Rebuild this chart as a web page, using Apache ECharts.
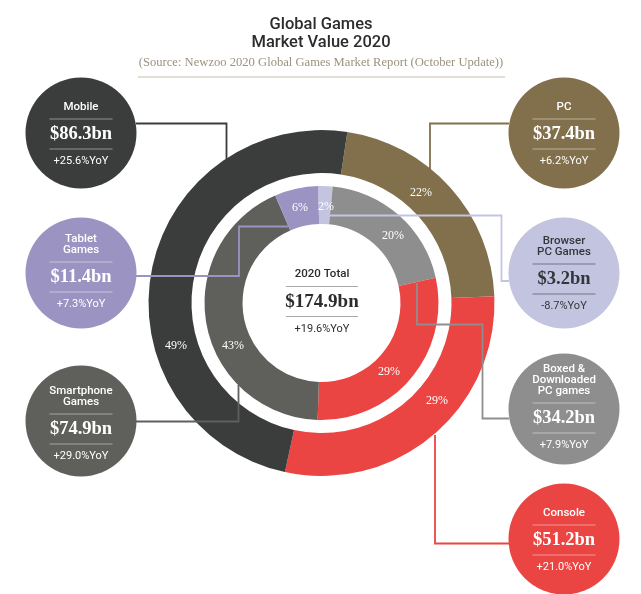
<!DOCTYPE html>
<html>
<head>
<meta charset="utf-8">
<title>Global Games Market Value 2020</title>
<script src="https://cdn.jsdelivr.net/npm/echarts@6/dist/echarts.min.js"></script>
<style>
html,body{margin:0;padding:0;background:#fff;}
#main{width:641px;height:594px;}
</style>
</head>
<body>
<div id="main"></div>
<script>
// ring data (percent labels from the picture)
let outerNames = ['PC','Console','Mobile'];
let outerShares = [22,29,49];
let innerNames = ['Browser PC Games','Boxed & Downloaded PC games','Console','Smartphone Games','Tablet Games'];
let innerShares = [2,20,29,43,6];

// callout circles
let badgeTitles = [['Mobile'],['Tablet','Games'],['Smartphone','Games'],['PC'],['Browser','PC Games'],['Boxed &','Downloaded','PC games'],['Console']];
let badgeValues = [86.3,11.4,74.9,37.4,3.2,34.2,51.2];
let badgeYoY = ['+25.6%YoY','+7.3%YoY','+29.0%YoY','+6.2%YoY','-8.7%YoY','+7.9%YoY','+21.0%YoY'];

let totalValue = 174.9;
let totalYoY = '+19.6%YoY';

// layout and colours, kept apart from the data
let outerColors = ['#81704b','#ea4543','#3a3d3b'];
let innerColors = ['#c3c5e0','#8e8e8e','#ea4543','#5f605c','#9b93c2'];
let outerLabelPos = [[421,193],[437,401],[176,346]];
let innerLabelPos = [[326,207],[393,236],[389,372],[233,346],[300,208]];
let badgeColors = ['#3a3d3b','#9b93c2','#5f605c','#81704b','#c3c5e0','#8e8e8e','#ea4543'];
let badgeCenters = [[81,133],[81,273],[81,421],[564,133],[564,273],[564,409],[564,539]];
let badgeRuleY = [119,262,414,119,264,403,525];
let connectors = [
    [[136,123.5],[226.5,123.5],[226.5,159]],
    [[136,276],[239,276],[239,226.5],[288,226.5]],
    [[136,421.5],[238.5,421.5],[238.5,385]],
    [[509,123.5],[430,123.5],[430,170]],
    [[509,281],[501.5,281],[501.5,215.5],[330,215.5]],
    [[509,418.5],[482.5,418.5],[482.5,324.5],[417,324.5],[417,283]],
    [[509,543.5],[435,543.5],[435,435]]
];

let sansFont = 'Roboto, "Noto Sans", sans-serif';
let serifFont = '"Liberation Serif", serif';

function money(v){
    return '$' + v.toFixed(1) + 'bn';
}

function textEl(text,x,y,fill,font){
    return {
        type:'text',
        z:120,
        style:{text:text,x:x,y:y,fill:fill,font:font,textAlign:'center',textVerticalAlign:'middle'}
    };
}

function ruleEl(x1,x2,y,color){
    return {
        type:'line',
        z:120,
        shape:{x1:x1,y1:y,x2:x2,y2:y},
        style:{stroke:color,lineWidth:1}
    };
}

function buildGraphic(){
    let els = [];

    els.push(textEl('Global Games',321,25,'#2b2d2d','500 16.5px '+sansFont));
    els.push(textEl('Market Value 2020',321,43,'#2b2d2d','500 16.5px '+sansFont));
    els.push(textEl('(Source: Newzoo 2020 Global Games Market Report (October Update))',321,63,'#9c937f','12.6px '+serifFont));
    els.push(ruleEl(138,505,77,'#c4bdae'));

    // connectors sit over the rings, under the circles
    for (let x=0;x<connectors.length;x++){
        els.push({
            type:'polyline',
            z:100,
            shape:{points:connectors[x]},
            style:{stroke:badgeColors[x],fill:'none',lineWidth:1.8}
        });
    }

    for (let x=0;x<badgeTitles.length;x++){
        let cx = badgeCenters[x][0];
        let cy = badgeCenters[x][1];
        let rule = badgeRuleY[x];
        let dark = x==4;
        let ink = dark ? '#33363a' : '#ffffff';
        let ruleColor = dark ? 'rgba(50,50,60,0.55)' : 'rgba(255,255,255,0.45)';

        els.push({type:'circle',z:110,shape:{cx:cx,cy:cy,r:55.5},style:{fill:badgeColors[x]}});

        let lines = badgeTitles[x];
        for (let k=0;k<lines.length;k++){
            els.push(textEl(lines[k],cx,rule-12-(lines.length-1-k)*11,ink,'500 11.5px '+sansFont));
        }
        els.push(ruleEl(cx-31.5,cx+31.5,rule,ruleColor));
        els.push(textEl(money(badgeValues[x]),cx,rule+15,ink,'bold 18.5px '+serifFont));
        els.push(ruleEl(cx-31.5,cx+31.5,rule+30,ruleColor));
        els.push(textEl(badgeYoY[x],cx,rule+42,ink,'11px '+sansFont));
    }

    // centre of the rings
    els.push(textEl('2020 Total',322,274,'#2b2d2d','500 11.5px '+sansFont));
    els.push(ruleEl(286,358,286.5,'#a9a9ab'));
    els.push(textEl(money(totalValue),322,302,'#2b2d2d','bold 19px '+serifFont));
    els.push(ruleEl(286,358,316.5,'#a9a9ab'));
    els.push(textEl(totalYoY,322,329,'#2b2d2d','11px '+sansFont));

    return els;
}

function ringSeries(name,names,shares,colors,labelPos,radius,startAngle){
    let data = [];
    for (let x=0;x<names.length;x++){
        data.push({name:names[x],value:shares[x],itemStyle:{color:colors[x]}});
    }
    return {
        name:name,
        type:'pie',
        center:[321.5,303],
        radius:radius,
        startAngle:startAngle,
        clockwise:true,
        avoidLabelOverlap:false,
        silent:true,
        label:{
            show:true,
            position:'inside',
            formatter:'{c}%',
            color:'#ffffff',
            fontFamily:'"Liberation Serif", serif',
            fontSize:12
        },
        labelLine:{show:false},
        labelLayout:function(p){
            return {x:labelPos[p.dataIndex][0],y:labelPos[p.dataIndex][1],align:'center',verticalAlign:'middle'};
        },
        data:data
    };
}

let myChart = echarts.init(document.getElementById('main'));

let option = {
    animation:false,
    backgroundColor:'#ffffff',
    series:[
        ringSeries('Market',outerNames,outerShares,outerColors,outerLabelPos,[130,173],81.4),
        ringSeries('Segments',innerNames,innerShares,innerColors,innerLabelPos,[79,117],91.7)
    ],
    graphic:{elements:buildGraphic()}
};

myChart.setOption(option);
</script>
</body>
</html>
